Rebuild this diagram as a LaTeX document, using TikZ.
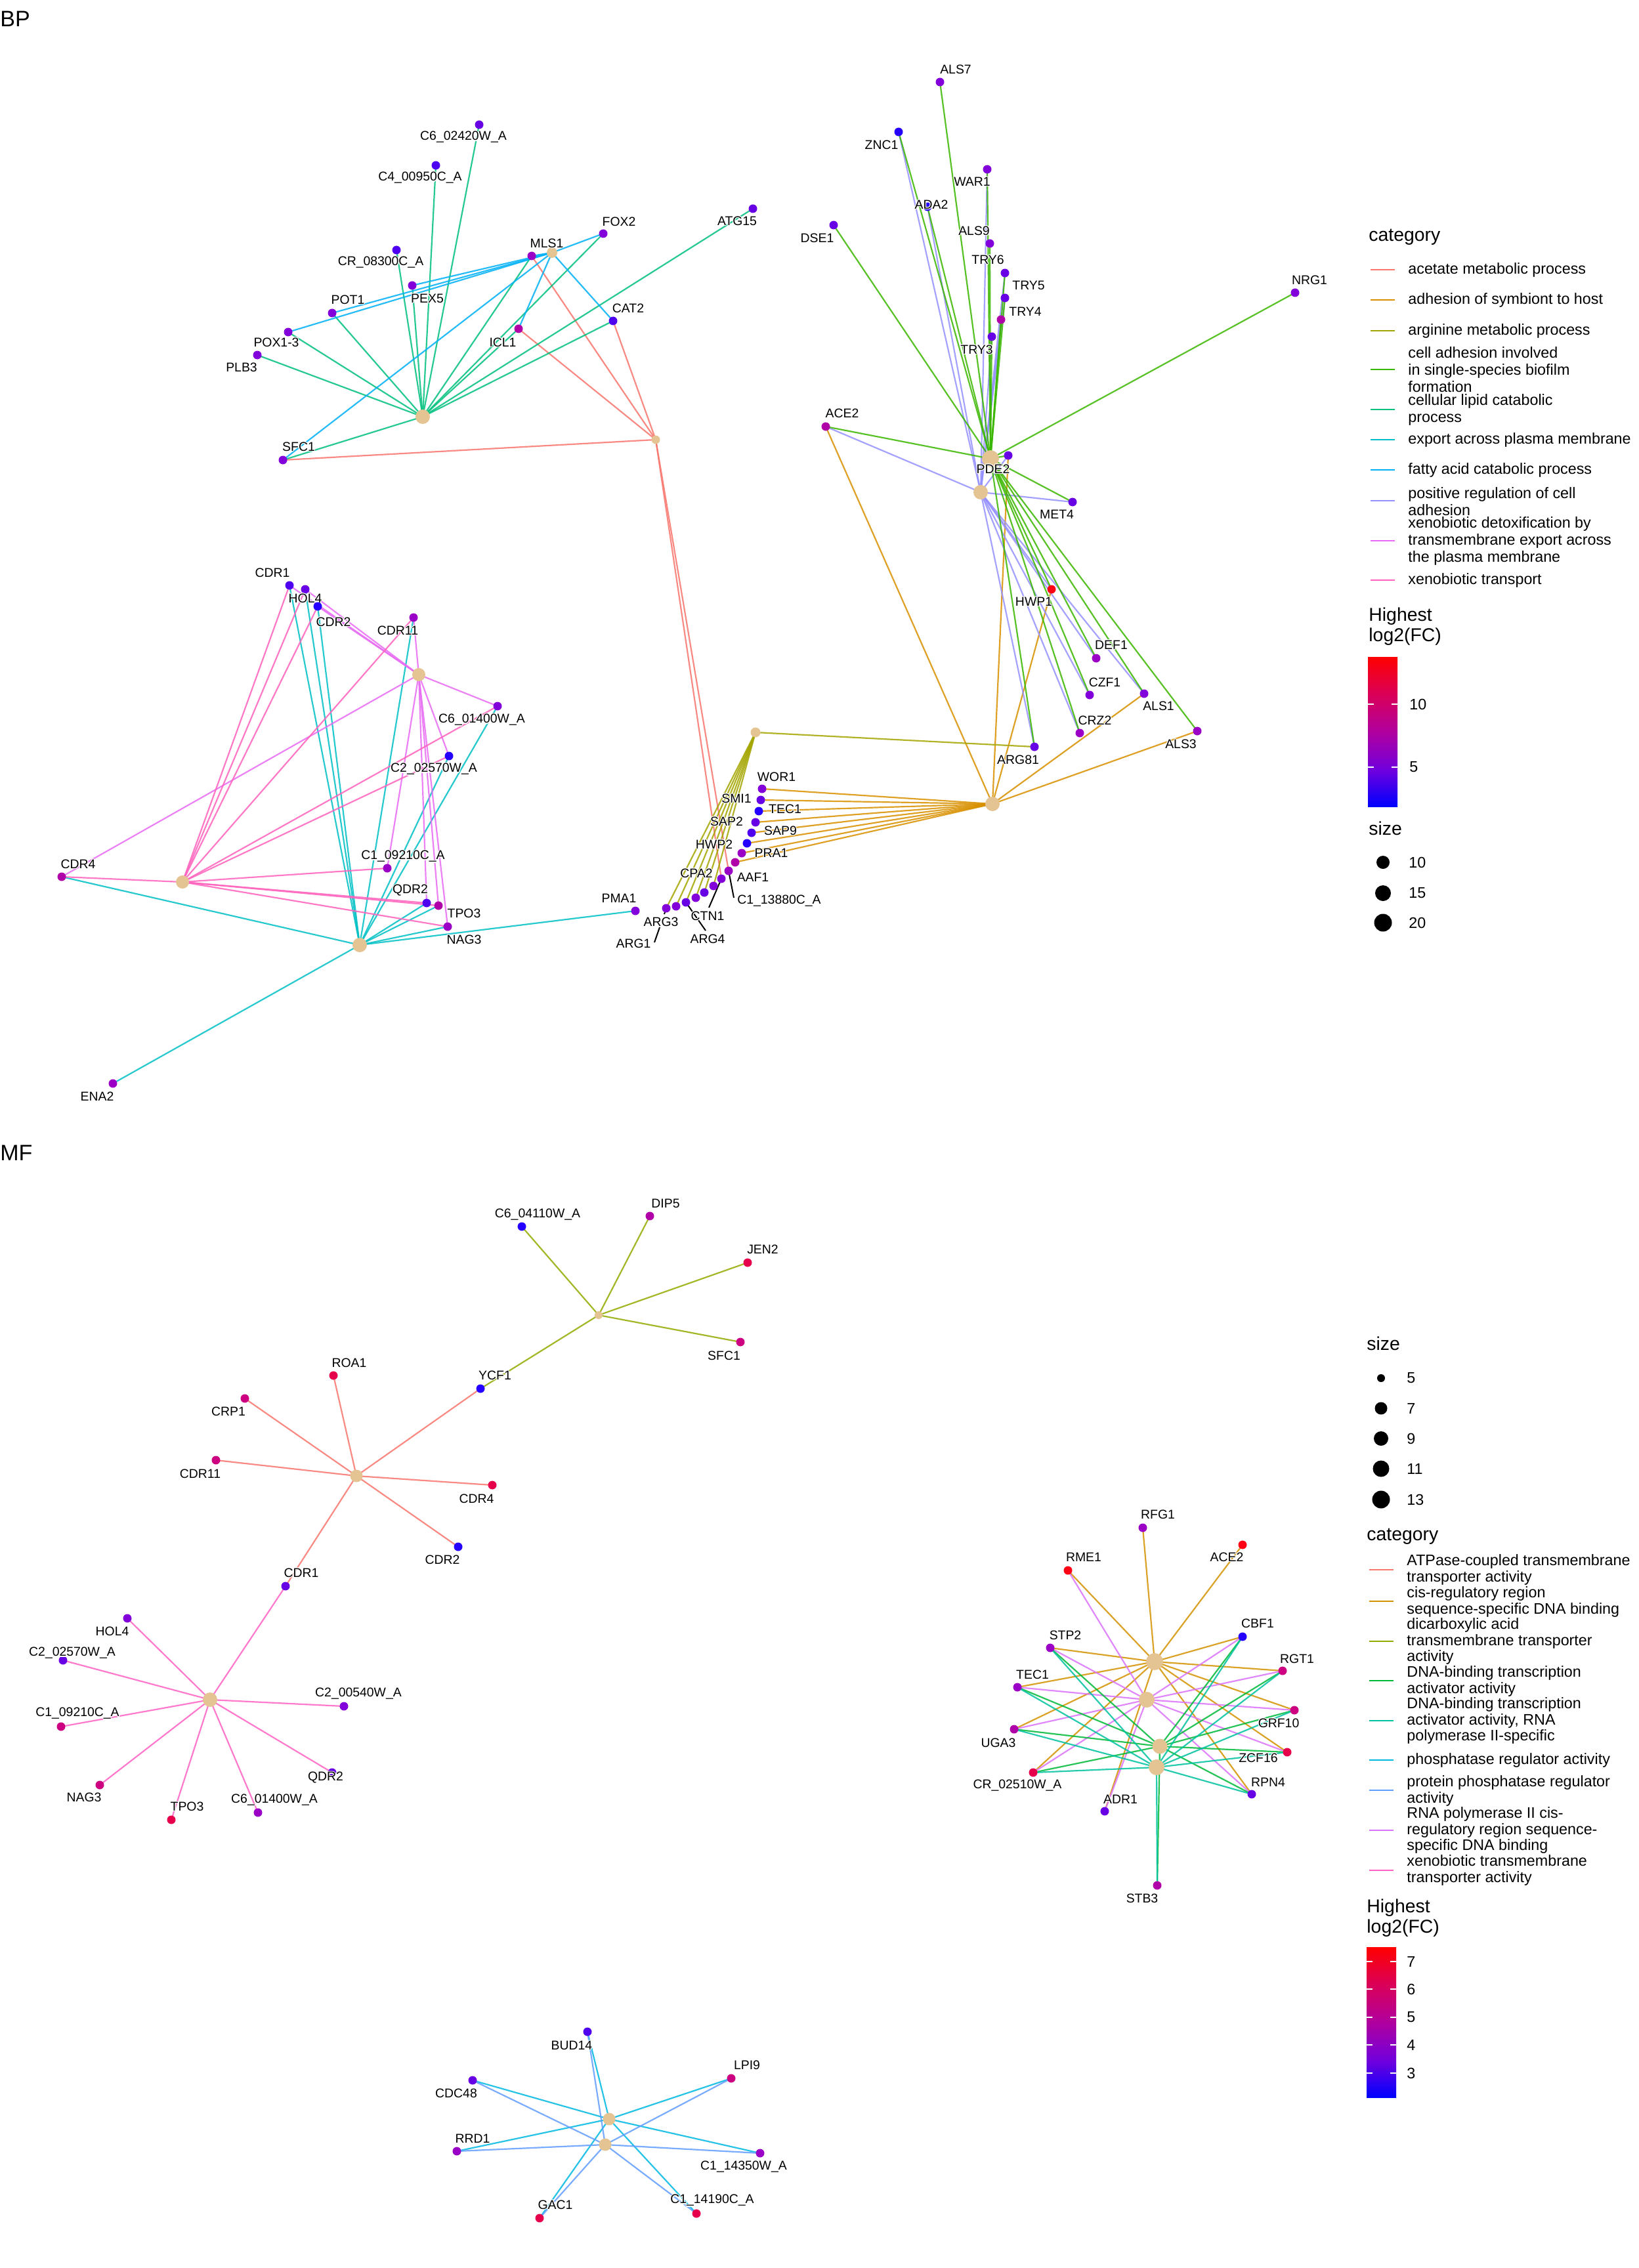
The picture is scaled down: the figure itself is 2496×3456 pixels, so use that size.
\documentclass[tikz,border=0pt]{standalone}
\usepackage{fontspec}
\setmainfont{Liberation Sans}
\pgfdeclarelayer{edgelayer}
\pgfsetlayers{edgelayer,main}
\definecolor{tancol}{HTML}{E5C494}
\definecolor{cb0}{HTML}{2600FF}
\definecolor{cb1}{HTML}{4E00F0}
\definecolor{cb2}{HTML}{6800E6}
\definecolor{cb3}{HTML}{8200D9}
\definecolor{cb4}{HTML}{9A00C6}
\definecolor{cb5}{HTML}{B000A8}
\definecolor{cb6}{HTML}{CC0080}
\definecolor{cb7}{HTML}{E6004C}
\definecolor{cb8}{HTML}{FF0014}
\definecolor{gq0}{HTML}{0000FF}
\definecolor{gq1}{HTML}{7200DC}
\definecolor{gq2}{HTML}{B0009E}
\definecolor{gq3}{HTML}{DA0058}
\definecolor{gq4}{HTML}{FF0000}
% BP categories
\definecolor{bAcet}{HTML}{F8766D}
\definecolor{bAdh}{HTML}{D89000}
\definecolor{bArg}{HTML}{A3A500}
\definecolor{bBio}{HTML}{39B600}
\definecolor{bLip}{HTML}{00BF7D}
\definecolor{bExp}{HTML}{00BFC4}
\definecolor{bFat}{HTML}{00B0F6}
\definecolor{bPos}{HTML}{9590FF}
\definecolor{bDet}{HTML}{E76BF3}
\definecolor{bXtr}{HTML}{FF62BC}
% MF categories
\definecolor{mATP}{HTML}{F8766D}
\definecolor{mCis}{HTML}{D39200}
\definecolor{mDic}{HTML}{93AA00}
\definecolor{mAct}{HTML}{00BA38}
\definecolor{mActP}{HTML}{00C19F}
\definecolor{mPh}{HTML}{00B9E3}
\definecolor{mPPh}{HTML}{619CFF}
\definecolor{mPol}{HTML}{DB72FB}
\definecolor{mXen}{HTML}{FF61C3}
\pgfdeclareverticalshading{lfcbar}{100bp}{color(0bp)=(gq0); color(25bp)=(gq0); color(37.5bp)=(gq1); color(50bp)=(gq2); color(62.5bp)=(gq3); color(75bp)=(gq4); color(100bp)=(gq4)}
\tikzset{
  gene/.style={circle,inner sep=0pt,minimum size=6.5pt,fill=#1,draw=none},
  hub/.style={circle,inner sep=0pt,minimum size=#1,fill=tancol,draw=none},
  lab/.style={inner sep=0pt,font=\fontsize{9.7}{11}\selectfont,text=black},
  ed/.style={line width=1.1pt,draw=#1,draw opacity=0.85},
  leader/.style={line width=1pt,draw=black},
  ptitle/.style={inner sep=0pt,anchor=west,font=\fontsize{17}{20}\selectfont},
  ltitle/.style={inner sep=0pt,anchor=west,align=left,font=\fontsize{14.2}{15.5}\selectfont},
  ltext/.style={inner sep=0pt,anchor=west,align=left,font=\fontsize{11.65}{13}\selectfont},
  mtext/.style={inner sep=0pt,anchor=west,align=left,font=\fontsize{11.65}{12.25}\selectfont},
  keyline/.style={line width=1.1pt,draw=#1},
  sizedot/.style={circle,inner sep=0pt,minimum size=#1,fill=black},
  tick/.style={draw=white,line width=0.6pt}
}
\newcommand\hwc[3]{\rlap{\color{white}\kern#1\raise#2\copy0}}
\newcommand\halo[1]{{\setbox0=\hbox{#1}%
  \hwc{-0.6pt}{0pt}{}\hwc{0.6pt}{0pt}{}\hwc{0pt}{0.6pt}{}\hwc{0pt}{-0.6pt}{}%
  \hwc{-0.42pt}{0.42pt}{}\hwc{0.42pt}{0.42pt}{}\hwc{-0.42pt}{-0.42pt}{}\hwc{0.42pt}{-0.42pt}{}%
  \copy0}}
\newcommand\gn[7]{\node[gene=#4] (#1) at (#2,#3) {};\node[lab] (#1-l) at (#6,#7) {\halo{#5}};}
\newcommand\fan[3]{\foreach \t in {#3}{\draw[ed=#1] (#2.center) -- (\t.center);}}
\begin{document}
\begin{tikzpicture}[x=0.5pt,y=-0.5pt]
\useasboundingbox (0,0) rectangle (2496,3456);
\node[ptitle] (tBP) at (0,29) {BP};
\node[ptitle] (tMF) at (0,1757) {MF};
% ---------------- BP hubs
\node[hub=11pt] (bhLipid) at (644,635) {};
\node[hub=8pt] (bhFatty) at (841,385) {};
\node[hub=6.5pt] (bhAcet) at (999,670) {};
\node[hub=13pt] (bhBio) at (1509,699) {};
\node[hub=11pt] (bhPos) at (1494,750) {};
\node[hub=11pt] (bhAdh) at (1512,1225) {};
\node[hub=7.5pt] (bhArg) at (1151,1116) {};
\node[hub=10pt] (bhDetox) at (638,1028) {};
\node[hub=10pt] (bhXtr) at (278,1344) {};
\node[hub=11pt] (bhExport) at (548,1440) {};
% ---------------- BP genes
\gn{bC6}{730}{190}{cb2}{C6\_02420W\_A}{706}{209}
\gn{bC4}{664}{252}{cb1}{C4\_00950C\_A}{640}{271}
\gn{bCR08}{604}{381}{cb1}{CR\_08300C\_A}{580}{400}
\gn{bPEX5}{628}{435}{cb3}{PEX5}{651}{455}
\gn{bPOT1}{506}{477}{cb3}{POT1}{530}{457}
\gn{bPOX}{439}{506}{cb3}{POX1-3}{421}{522}
\gn{bPLB3}{392}{541}{cb3}{PLB3}{368}{560}
\gn{bSFC1}{431}{701}{cb3}{SFC1}{455}{681}
\gn{bMLS1}{810}{390}{cb4}{MLS1}{833}{371}
\gn{bFOX2}{919}{356}{cb3}{FOX2}{943}{338}
\gn{bATG15}{1147}{318}{cb2}{ATG15}{1123}{337}
\gn{bCAT2}{934}{489}{cb1}{CAT2}{957}{470}
\gn{bICL1}{790}{501}{cb5}{ICL1}{766}{522}
\gn{bALS7}{1432}{125}{cb3}{ALS7}{1456}{106}
\gn{bZNC1}{1369}{201}{cb0}{ZNC1}{1343}{221}
\gn{bWAR1}{1504}{258}{cb3}{WAR1}{1481}{277}
\gn{bADA2}{1413}{315}{cb0}{ADA2}{1419}{312}
\gn{bDSE1}{1270}{343}{cb2}{DSE1}{1245}{363}
\gn{bALS9}{1508}{371}{cb3}{ALS9}{1484}{352}
\gn{bTRY6}{1531}{416}{cb2}{TRY6}{1505}{396}
\gn{bTRY5}{1531}{454}{cb2}{TRY5}{1567}{435}
\gn{bTRY4}{1525}{487}{cb5}{TRY4}{1562}{475}
\gn{bTRY3}{1511}{513}{cb2}{TRY3}{1488}{533}
\gn{bNRG1}{1973}{446}{cb3}{NRG1}{1995}{427}
\gn{bACE2}{1258}{650}{cb5}{ACE2}{1283}{630}
\gn{bPDE2}{1536}{694}{cb2}{PDE2}{1513}{715}
\gn{bMET4}{1634}{765}{cb2}{MET4}{1610}{784}
\gn{bHWP1}{1602}{898}{cb8}{HWP1}{1575}{917}
\gn{bDEF1}{1670}{1003}{cb4}{DEF1}{1693}{983}
\gn{bCZF1}{1660}{1059}{cb3}{CZF1}{1683}{1040}
\gn{bALS1}{1743}{1057}{cb3}{ALS1}{1765}{1076}
\gn{bCRZ2}{1645}{1117}{cb4}{CRZ2}{1668}{1098}
\gn{bALS3}{1824}{1114}{cb4}{ALS3}{1799}{1134}
\gn{bARG81}{1576}{1138}{cb2}{ARG81}{1551}{1158}
\gn{bWOR1}{1161}{1202}{cb3}{WOR1}{1183}{1184}
\gn{bSMI1}{1159}{1219}{cb2}{SMI1}{1122}{1217}
\gn{bTEC1}{1156}{1236}{cb0}{TEC1}{1196}{1233}
\gn{bSAP2}{1151}{1253}{cb2}{SAP2}{1107}{1252}
\gn{bSAP9}{1145}{1269}{cb1}{SAP9}{1189}{1266}
\gn{bHWP2}{1138}{1285}{cb0}{HWP2}{1088}{1287}
\gn{bPRA1}{1130}{1300}{cb4}{PRA1}{1175}{1300}
\gn{bAAF1}{1120}{1314}{cb5}{AAF1}{1147}{1337}
\gn{bC113}{1110}{1327}{cb4}{C1\_13880C\_A}{1187}{1373}
\gn{bCTN1}{1099}{1339}{cb3}{CTN1}{1078}{1396}
\gn{bCPA2}{1087}{1350}{cb3}{CPA2}{1061}{1331}
\node[gene=cb2] (bd12) at (1073,1360) {};
\node[gene=cb3] (bd13) at (1060,1368) {};
\gn{bARG4}{1045}{1375}{cb2}{ARG4}{1078}{1431}
\gn{bARG3}{1030}{1381}{cb3}{ARG3}{1007}{1405}
\gn{bARG1}{1015}{1384}{cb3}{ARG1}{965}{1438}
\gn{bPMA1}{968}{1388}{cb3}{PMA1}{943}{1369}
\gn{bCDR1}{441}{892}{cb1}{CDR1}{415}{873}
\gn{bHOL4}{465}{898}{cb2}{HOL4}{465}{912}
\gn{bCDR2}{484}{924}{cb0}{CDR2}{508}{948}
\gn{bCDR11}{630}{941}{cb4}{CDR11}{606}{961}
\gn{bC6014}{758}{1076}{cb3}{C6\_01400W\_A}{734}{1097}
\gn{bC2025}{684}{1152}{cb0}{C2\_02570W\_A}{661}{1172}
\gn{bCDR4}{94}{1336}{cb5}{CDR4}{119}{1317}
\gn{bC1092}{590}{1323}{cb4}{C1\_09210C\_A}{614}{1305}
\gn{bQDR2}{650}{1376}{cb1}{QDR2}{625}{1357}
\gn{bTPO3}{668}{1380}{cb5}{TPO3}{707}{1392}
\gn{bNAG3}{682}{1412}{cb4}{NAG3}{707}{1432}
\gn{bENA2}{172}{1651}{cb4}{ENA2}{148}{1671}
\coordinate (lC113) at (1118,1368);
\coordinate (lCTN1) at (1080,1383);
\coordinate (lARG4) at (1075,1418);
\coordinate (lARG1a) at (1012,1393);
\coordinate (lARG1b) at (1005,1413);
\coordinate (lARG1c) at (997,1436);
% ---------------- MF hubs
\node[hub=6pt] (mhDicarb) at (912,2004) {};
\node[hub=9.5pt] (mhATP) at (543,2249) {};
\node[hub=11pt] (mhXeno) at (320,2590) {};
\node[hub=13pt] (mhCis) at (1759,2532) {};
\node[hub=12pt] (mhPol) at (1747,2590) {};
\node[hub=11.5pt] (mhAct) at (1767,2661) {};
\node[hub=12pt] (mhActP) at (1762,2693) {};
\node[hub=9.5pt] (mhPh) at (928,3229) {};
\node[hub=9.5pt] (mhPPh) at (922,3268) {};
% ---------------- MF genes
\gn{mC6041}{795}{1869}{cb0}{C6\_04110W\_A}{819}{1851}
\gn{mDIP5}{990}{1853}{cb5}{DIP5}{1014}{1834}
\gn{mJEN2}{1139}{1924}{cb7}{JEN2}{1162}{1904}
\gn{mSFC1}{1128}{2045}{cb6}{SFC1}{1103}{2066}
\gn{mYCF1}{732}{2116}{cb0}{YCF1}{754}{2096}
\gn{mROA1}{508}{2096}{cb7}{ROA1}{532}{2077}
\gn{mCRP1}{373}{2131}{cb6}{CRP1}{348}{2151}
\gn{mCDR11}{329}{2225}{cb6}{CDR11}{305}{2246}
\gn{mCDR4}{750}{2263}{cb7}{CDR4}{726}{2284}
\gn{mCDR2}{698}{2357}{cb0}{CDR2}{674}{2377}
\gn{mCDR1}{435}{2417}{cb2}{CDR1}{459}{2397}
\gn{mHOL4}{194}{2466}{cb3}{HOL4}{171}{2486}
\gn{mC2025}{96}{2530}{cb2}{C2\_02570W\_A}{110}{2519}
\gn{mC1092}{93}{2631}{cb6}{C1\_09210C\_A}{118}{2611}
\gn{mNAG3}{152}{2720}{cb6}{NAG3}{128}{2739}
\gn{mTPO3}{261}{2773}{cb7}{TPO3}{285}{2753}
\gn{mC6014}{393}{2762}{cb4}{C6\_01400W\_A}{418}{2743}
\gn{mQDR2}{506}{2701}{cb2}{QDR2}{496}{2709}
\gn{mC2005}{524}{2600}{cb3}{C2\_00540W\_A}{546}{2581}
\gn{mRFG1}{1741}{2328}{cb4}{RFG1}{1764}{2308}
\gn{mRME1}{1627}{2393}{cb8}{RME1}{1651}{2373}
\gn{mACE2}{1893}{2354}{cb8}{ACE2}{1869}{2373}
\gn{mCBF1}{1893}{2494}{cb0}{CBF1}{1916}{2474}
\gn{mSTP2}{1600}{2511}{cb4}{STP2}{1623}{2492}
\gn{mRGT1}{1954}{2546}{cb6}{RGT1}{1976}{2528}
\gn{mTEC1}{1550}{2571}{cb4}{TEC1}{1573}{2552}
\gn{mGRF10}{1972}{2606}{cb6}{GRF10}{1948}{2626}
\gn{mUGA3}{1545}{2635}{cb5}{UGA3}{1521}{2656}
\gn{mZCF16}{1961}{2670}{cb7}{ZCF16}{1917}{2679}
\gn{mCR025}{1574}{2701}{cb7}{CR\_02510W\_A}{1550}{2721}
\gn{mRPN4}{1907}{2734}{cb2}{RPN4}{1932}{2716}
\gn{mADR1}{1683}{2760}{cb2}{ADR1}{1707}{2742}
\gn{mSTB3}{1763}{2873}{cb5}{STB3}{1740}{2893}
\gn{mBUD14}{895}{3096}{cb1}{BUD14}{871}{3117}
\gn{mLPI9}{1114}{3167}{cb6}{LPI9}{1138}{3147}
\gn{mCDC48}{720}{3170}{cb2}{CDC48}{695}{3190}
\gn{mRRD1}{696}{3278}{cb4}{RRD1}{720}{3259}
\gn{mC1143}{1158}{3281}{cb4}{C1\_14350W\_A}{1133}{3302}
\gn{mGAC1}{822}{3380}{cb7}{GAC1}{846}{3360}
\gn{mC1141}{1061}{3373}{cb7}{C1\_14190C\_A}{1085}{3353}
% ---------------- edges
\begin{pgfonlayer}{edgelayer}
\fan{bAcet}{bhAcet}{bSFC1,bICL1,bMLS1,bCAT2,bC113,bCTN1}
\fan{bAdh}{bhAdh}{bACE2,bPDE2,bHWP1,bALS1,bALS3,bWOR1,bSMI1,bTEC1,bSAP2,bSAP9,bHWP2,bPRA1,bAAF1}
\fan{bArg}{bhArg}{bARG81,bCPA2,bd12,bd13,bARG4,bARG3,bARG1}
\fan{bPos}{bhPos}{bZNC1,bADA2,bWAR1,bTRY6,bTRY5,bTRY4,bTRY3,bACE2,bPDE2,bMET4,bHWP1,bDEF1,bCZF1,bALS1,bCRZ2,bARG81}
\fan{bBio}{bhBio}{bALS7,bZNC1,bADA2,bWAR1,bDSE1,bALS9,bTRY6,bTRY5,bTRY4,bTRY3,bNRG1,bACE2,bPDE2,bMET4,bHWP1,bDEF1,bCZF1,bALS1,bCRZ2,bALS3,bARG81}
\fan{bLip}{bhLipid}{bC6,bC4,bCR08,bPEX5,bPOT1,bPOX,bPLB3,bSFC1,bMLS1,bFOX2,bICL1,bATG15,bCAT2}
\fan{bFat}{bhFatty}{bPEX5,bPOT1,bPOX,bSFC1,bMLS1,bFOX2,bCAT2,bICL1}
\fan{bExp}{bhExport}{bCDR1,bHOL4,bCDR2,bCDR11,bC6014,bC2025,bCDR4,bQDR2,bTPO3,bNAG3,bPMA1,bENA2}
\fan{bDet}{bhDetox}{bCDR1,bHOL4,bCDR2,bCDR11,bC6014,bC2025,bCDR4,bC1092,bQDR2,bTPO3,bNAG3}
\fan{bXtr}{bhXtr}{bCDR1,bHOL4,bCDR2,bCDR11,bC6014,bC2025,bCDR4,bC1092,bQDR2,bTPO3,bNAG3}
\draw[leader] (bC113.center) -- (lC113);
\draw[leader] (bCTN1.center) -- (lCTN1);
\draw[leader] (bARG4.center) -- (lARG4);
\draw[leader] (bARG1.center) -- (lARG1a);
\draw[leader] (lARG1b) -- (lARG1c);
\fan{mDic}{mhDicarb}{mC6041,mDIP5,mJEN2,mSFC1,mYCF1}
\fan{mATP}{mhATP}{mYCF1,mROA1,mCRP1,mCDR11,mCDR4,mCDR2,mCDR1}
\fan{mXen}{mhXeno}{mCDR1,mHOL4,mC2025,mC1092,mNAG3,mTPO3,mC6014,mQDR2,mC2005}
\fan{mCis}{mhCis}{mRFG1,mRME1,mACE2,mCBF1,mSTP2,mRGT1,mTEC1,mGRF10,mUGA3,mZCF16,mCR025,mRPN4,mADR1}
\fan{mPol}{mhPol}{mRME1,mSTP2,mTEC1,mUGA3,mCR025,mADR1,mCBF1,mRGT1,mGRF10,mZCF16,mRPN4}
\fan{mAct}{mhAct}{mSTP2,mTEC1,mUGA3,mCR025,mCBF1,mRGT1,mGRF10,mZCF16,mRPN4,mSTB3}
\fan{mActP}{mhActP}{mSTP2,mTEC1,mUGA3,mCR025,mCBF1,mRGT1,mGRF10,mZCF16,mRPN4,mSTB3}
\fan{mPh}{mhPh}{mBUD14,mLPI9,mCDC48,mRRD1,mC1143,mGAC1,mC1141}
\fan{mPPh}{mhPPh}{mBUD14,mLPI9,mCDC48,mRRD1,mC1143,mGAC1,mC1141}
\end{pgfonlayer}
% ---------------- BP legend
\node[ltitle] (bLcat) at (2085,361) {category};
\foreach \y/\c in {411/bAcet,457/bAdh,504/bArg,563/bBio,624/bLip,670/bExp,716/bFat,763/bPos,824/bDet,884/bXtr}{
  \draw[keyline=\c] (2088,\y) -- (2125,\y);}
\node[ltext] (bL1) at (2145,411) {acetate metabolic process};
\node[ltext] (bL2) at (2145,457) {adhesion of symbiont to host};
\node[ltext] (bL3) at (2145,504) {arginine metabolic process};
\node[ltext] (bL4) at (2145,563) {cell adhesion involved\\in single-species biofilm\\formation};
\node[ltext] (bL5) at (2145,624) {cellular lipid catabolic\\process};
\node[ltext] (bL6) at (2145,670) {export across plasma membrane};
\node[ltext] (bL7) at (2145,716) {fatty acid catabolic process};
\node[ltext] (bL8) at (2145,764) {positive regulation of cell\\adhesion};
\node[ltext] (bL9) at (2145,824) {xenobiotic detoxification by\\transmembrane export across\\the plasma membrane};
\node[ltext] (bL10) at (2145,884) {xenobiotic transport};
\node[ltitle] (bLfc) at (2085,955) {Highest\\log2(FC)};
\shade[shading=lfcbar] (2084,1001) rectangle (2129,1229);
\draw[tick] (2084,1073) -- (2093,1073) (2120,1073) -- (2129,1073);
\draw[tick] (2084,1169) -- (2093,1169) (2120,1169) -- (2129,1169);
\node[ltext] (bLt10) at (2147,1073) {10};
\node[ltext] (bLt5) at (2147,1169) {5};
\node[ltitle] (bLsize) at (2085,1262) {size};
\node[sizedot=10pt] (bS1) at (2107,1314) {};
\node[sizedot=12pt] (bS2) at (2107,1361) {};
\node[sizedot=13.5pt] (bS3) at (2107,1406) {};
\node[ltext] (bS1l) at (2146,1314) {10};
\node[ltext] (bS2l) at (2146,1361) {15};
\node[ltext] (bS3l) at (2146,1406) {20};
% ---------------- MF legend
\node[ltitle] (mLsize) at (2082,2047) {size};
\node[sizedot=6pt] (mS1) at (2104,2100) {};
\node[sizedot=9.5pt] (mS2) at (2104,2146) {};
\node[sizedot=11pt] (mS3) at (2104,2192) {};
\node[sizedot=12.5pt] (mS4) at (2104,2238) {};
\node[sizedot=13.5pt] (mS5) at (2104,2285) {};
\node[ltext] (mS1l) at (2143,2100) {5};
\node[ltext] (mS2l) at (2143,2146) {7};
\node[ltext] (mS3l) at (2143,2192) {9};
\node[ltext] (mS4l) at (2143,2238) {11};
\node[ltext] (mS5l) at (2143,2285) {13};
\node[ltitle] (mLcat) at (2082,2341) {category};
\foreach \y/\c in {2392/mATP,2440/mCis,2501/mDic,2561/mAct,2622/mActP,2682/mPh,2728/mPPh,2789/mPol,2850/mXen}{
  \draw[keyline=\c] (2086,\y) -- (2123,\y);}
\node[mtext] (mL1) at (2143,2392) {ATPase-coupled transmembrane\\transporter activity};
\node[mtext] (mL2) at (2143,2441) {cis-regulatory region\\sequence-specific DNA binding};
\node[mtext] (mL3) at (2143,2501) {dicarboxylic acid\\transmembrane transporter\\activity};
\node[mtext] (mL4) at (2143,2562) {DNA-binding transcription\\activator activity};
\node[mtext] (mL5) at (2143,2622) {DNA-binding transcription\\activator activity, RNA\\polymerase II-specific};
\node[mtext] (mL6) at (2143,2682) {phosphatase regulator activity};
\node[mtext] (mL7) at (2143,2729) {protein phosphatase regulator\\activity};
\node[mtext] (mL8) at (2143,2789) {RNA polymerase II cis-\\regulatory region sequence-\\specific DNA binding};
\node[mtext] (mL9) at (2143,2850) {xenobiotic transmembrane\\transporter activity};
\node[ltitle] (mLfc) at (2082,2923) {Highest\\log2(FC)};
\shade[shading=lfcbar] (2082,2967) rectangle (2127,3196);
\foreach \y in {2989,3031,3074,3116,3159}{
  \draw[tick] (2082,\y) -- (2091,\y) (2118,\y) -- (2127,\y);}
\node[ltext] (mLt7) at (2143,2989) {7};
\node[ltext] (mLt6) at (2143,3031) {6};
\node[ltext] (mLt5) at (2143,3074) {5};
\node[ltext] (mLt4) at (2143,3116) {4};
\node[ltext] (mLt3) at (2143,3159) {3};
\end{tikzpicture}
\end{document}
